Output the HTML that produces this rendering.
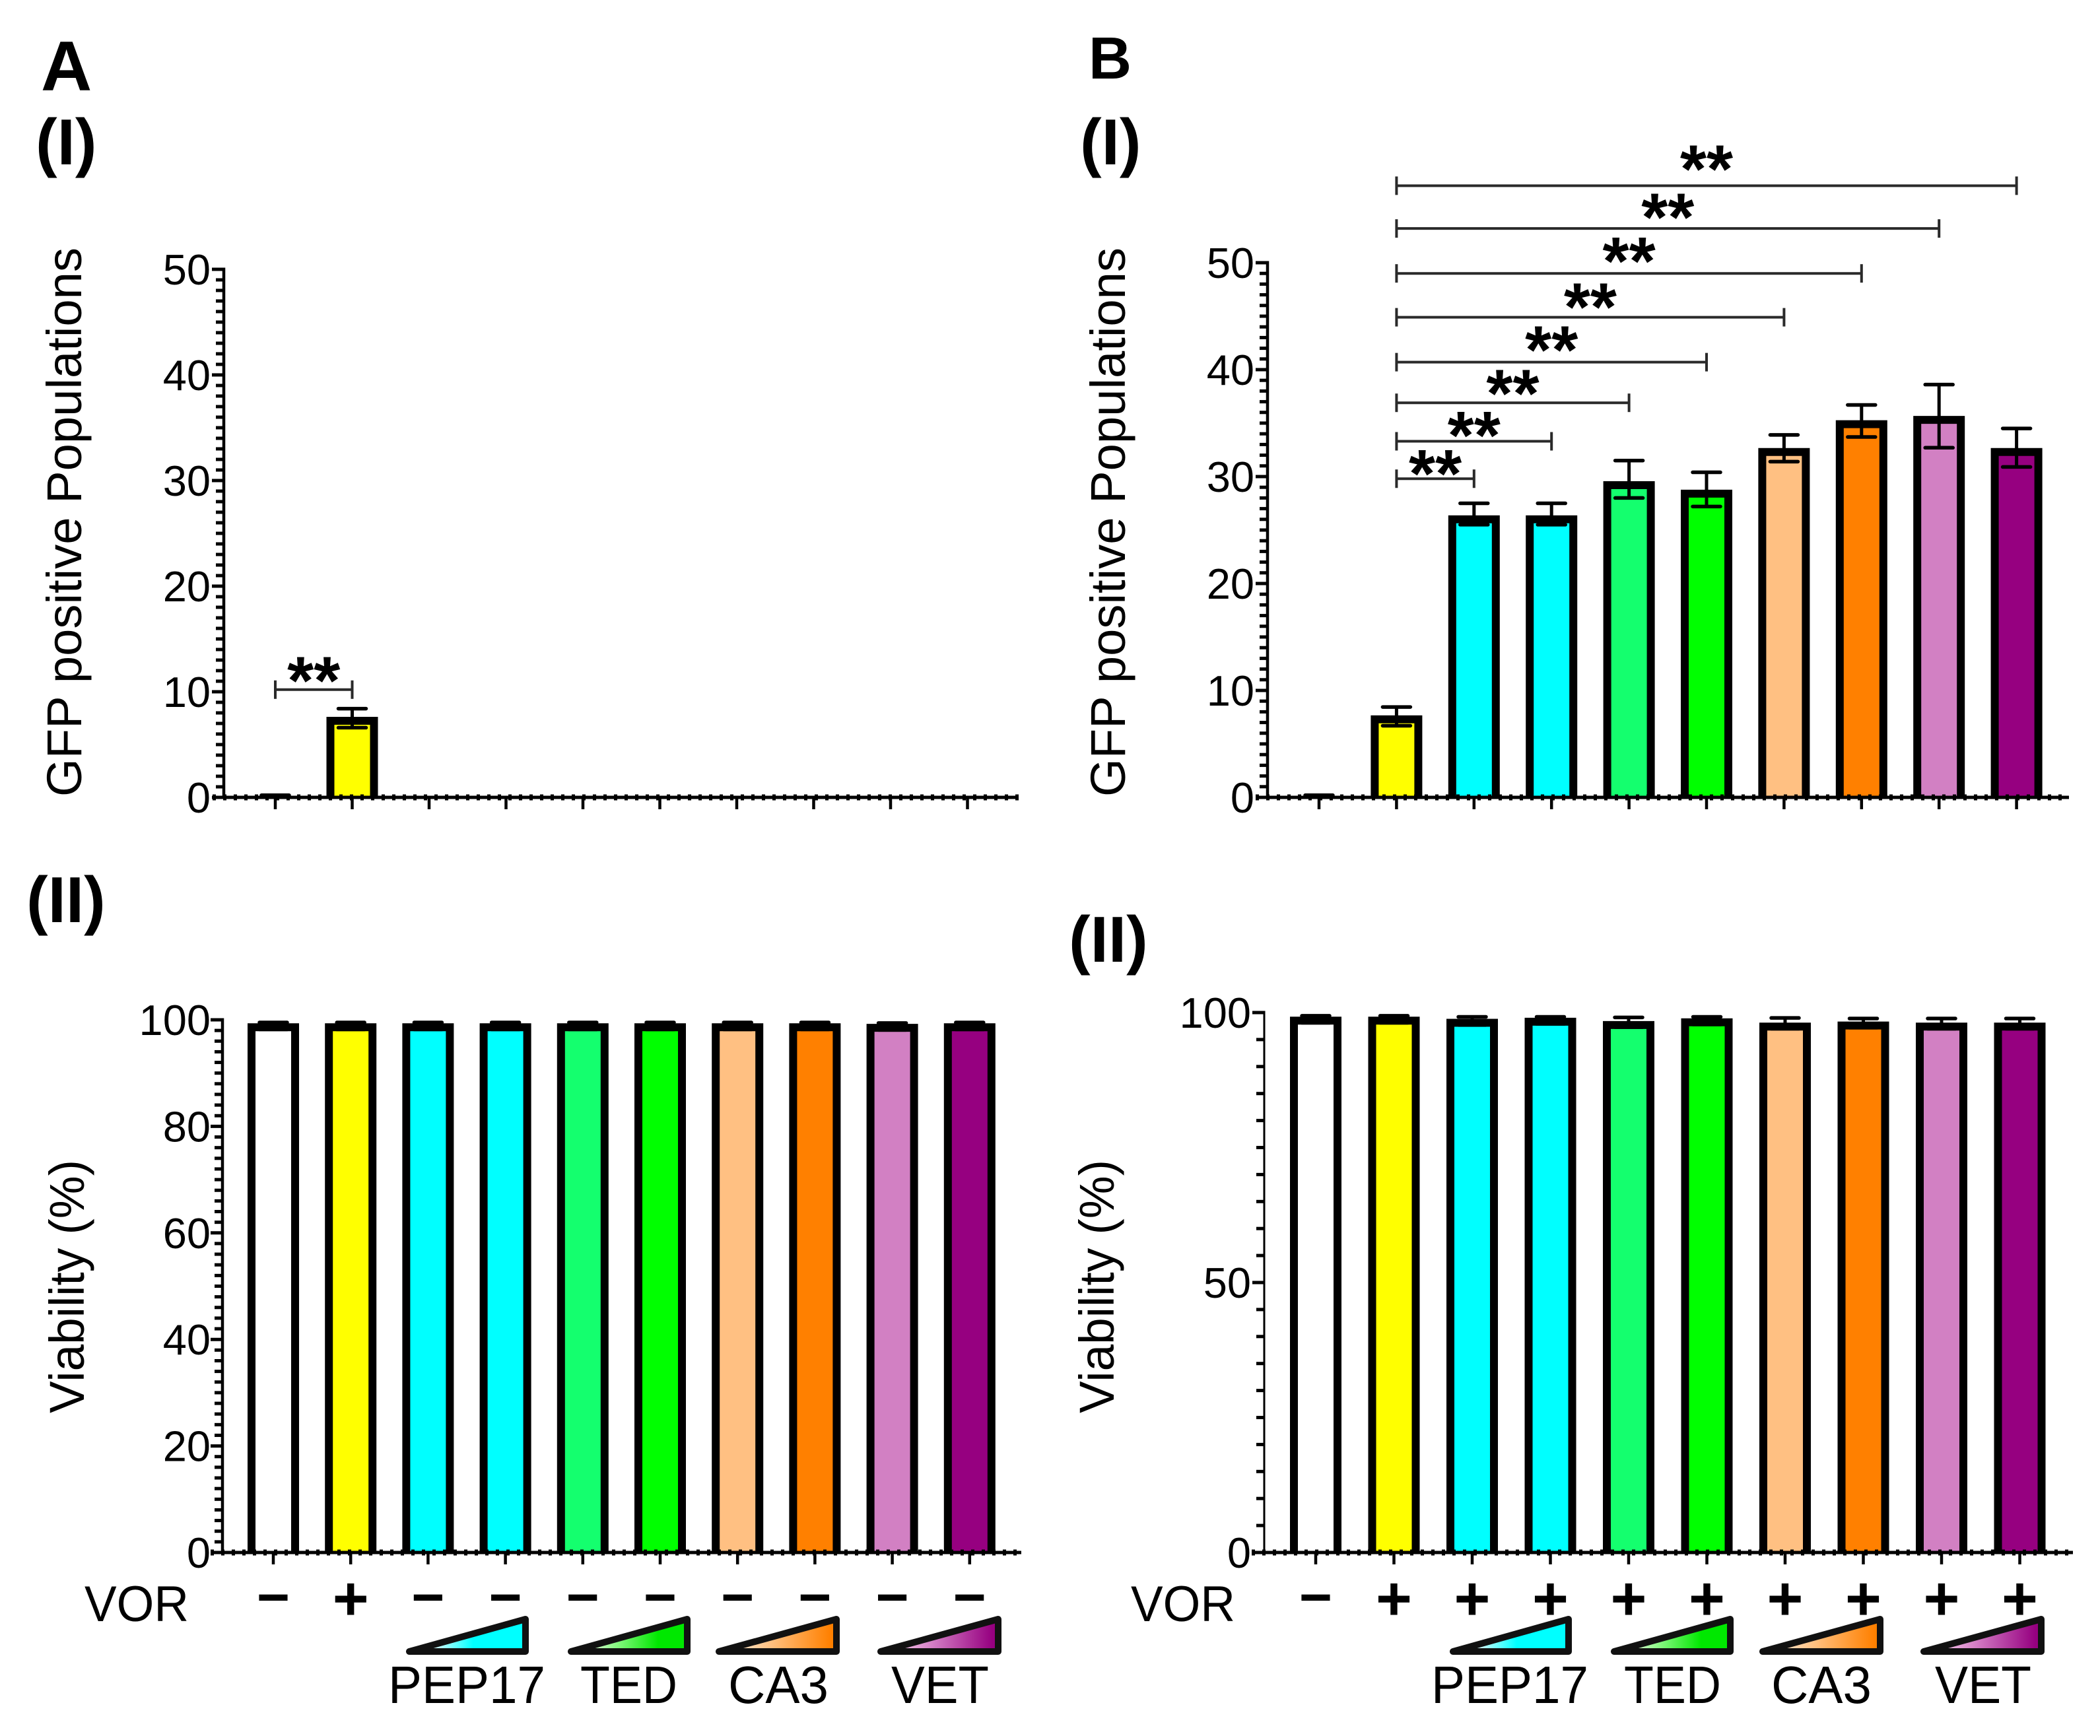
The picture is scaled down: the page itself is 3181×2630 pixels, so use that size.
<!DOCTYPE html>
<html lang="en">
<head>
<meta charset="utf-8">
<title>GFP positive populations and viability</title>
<style>
html,body{margin:0;padding:0;background:#fff}
svg{display:block}
text{font-family:"Liberation Sans",sans-serif;fill:#000}
.title{font-size:74px}
.vor{font-size:76px}
.panel{font-weight:700}
.lab{font-size:80px}
</style>
</head>
<body>
<svg id="figure" xmlns="http://www.w3.org/2000/svg" width="3181" height="2630" viewBox="0 0 3181 2630">
  <defs>
    <linearGradient id="grad-cyan"><stop offset="0.22" stop-color="#d8ffff"/><stop offset="0.55" stop-color="#00ffff"/></linearGradient>
    <linearGradient id="grad-green"><stop offset="0.22" stop-color="#c8ffc0"/><stop offset="0.75" stop-color="#00e800"/></linearGradient>
    <linearGradient id="grad-orange"><stop offset="0.22" stop-color="#ffdcb8"/><stop offset="0.95" stop-color="#ff8000"/></linearGradient>
    <linearGradient id="grad-purple"><stop offset="0.22" stop-color="#eeb4e2"/><stop offset="0.95" stop-color="#960080"/></linearGradient>
  </defs>
  <rect x="0" y="0" width="3181" height="2630" fill="#fff"/>

  <text class="panel" x="62" y="137" font-size="107">A</text>
  <text class="panel" x="1649" y="119" font-size="90">B</text>
  <text class="panel" x="54" y="249" font-size="98">(I)</text>
  <text class="panel" x="1636" y="249" font-size="98">(I)</text>
  <text class="panel" x="40" y="1397" font-size="98">(II)</text>
  <text class="panel" x="1619" y="1457" font-size="98">(II)</text>

  <text class="title" text-anchor="middle" textLength="832" lengthAdjust="spacingAndGlyphs" transform="translate(123 791) rotate(-90)">GFP positive Populations</text>
  <text class="title" text-anchor="middle" textLength="832" lengthAdjust="spacingAndGlyphs" transform="translate(1704 791) rotate(-90)">GFP positive Populations</text>
  <text class="title" text-anchor="middle" textLength="384" lengthAdjust="spacingAndGlyphs" transform="translate(127 1949) rotate(-90)">Viability (%)</text>
  <text class="title" text-anchor="middle" textLength="384" lengthAdjust="spacingAndGlyphs" transform="translate(1687 1949) rotate(-90)">Viability (%)</text>

  <text class="vor" x="128" y="2456" textLength="158" lengthAdjust="spacingAndGlyphs">VOR</text>
  <text class="vor" x="1713" y="2456" textLength="158" lengthAdjust="spacingAndGlyphs">VOR</text>

  <text class="lab" x="588" y="2580" textLength="238" lengthAdjust="spacingAndGlyphs">PEP17</text>
  <text class="lab" x="879" y="2580" textLength="147" lengthAdjust="spacingAndGlyphs">TED</text>
  <text class="lab" x="1103" y="2580" textLength="152" lengthAdjust="spacingAndGlyphs">CA3</text>
  <text class="lab" x="1350" y="2580" textLength="148" lengthAdjust="spacingAndGlyphs">VET</text>
  <text class="lab" x="2168" y="2580" textLength="238" lengthAdjust="spacingAndGlyphs">PEP17</text>
  <text class="lab" x="2460" y="2580" textLength="147" lengthAdjust="spacingAndGlyphs">TED</text>
  <text class="lab" x="2683" y="2580" textLength="152" lengthAdjust="spacingAndGlyphs">CA3</text>
  <text class="lab" x="2931" y="2580" textLength="146" lengthAdjust="spacingAndGlyphs">VET</text>

  <g fill="none" stroke="#111" stroke-width="10" stroke-linejoin="round">
    <polygon fill="url(#grad-cyan)" points="620,2502 796,2502 796,2453"/>
    <polygon fill="url(#grad-green)" points="865,2502 1041,2502 1041,2453"/>
    <polygon fill="url(#grad-orange)" points="1089,2502 1267,2502 1267,2453"/>
    <polygon fill="url(#grad-purple)" points="1334,2502 1512,2502 1512,2453"/>
    <polygon fill="url(#grad-cyan)" points="2201,2502 2376,2502 2376,2453"/>
    <polygon fill="url(#grad-green)" points="2445,2502 2621,2502 2621,2453"/>
    <polygon fill="url(#grad-orange)" points="2670,2502 2848,2502 2848,2453"/>
    <polygon fill="url(#grad-purple)" points="2914,2502 3092,2502 3092,2453"/>
  </g>
</svg>

<script>
// Categories
const categories = ['Control', 'VOR', 'PEP17 low', 'PEP17 high', 'TED low', 'TED high', 'CA3 low', 'CA3 high', 'VET low', 'VET high'];

// Panel A (I): GFP positive populations
const gfpAValues = [0, 7.25, 0, 0, 0, 0, 0, 0, 0, 0];
const gfpAErrUp = [0.2, 1.15, 0, 0, 0, 0, 0, 0, 0, 0];
const gfpAErrDown = [0, 0.65, 0, 0, 0, 0, 0, 0, 0, 0];
const gfpATicks = [0, 10, 20, 30, 40, 50];

// Panel B (I): GFP positive populations
const gfpBValues = [0, 7.3, 26.0, 26.0, 29.2, 28.4, 32.3, 34.9, 35.3, 32.3];
const gfpBErrUp = [0.2, 1.15, 1.5, 1.5, 2.3, 2.0, 1.6, 1.8, 3.3, 2.2];
const gfpBErrDown = [0, 0.6, 0.5, 0.5, 1.2, 1.2, 0.9, 1.2, 2.6, 1.4];
const gfpBTicks = [0, 10, 20, 30, 40, 50];

// Panel A (II): viability
const viaAValues = [98.6, 98.6, 98.6, 98.6, 98.6, 98.6, 98.6, 98.6, 98.5, 98.6];
const viaAErrUp = [0.9, 0.9, 0.9, 0.9, 0.9, 0.9, 0.9, 0.9, 0.9, 0.9];
const viaAErrDown = [0.4, 0.4, 0.4, 0.4, 0.4, 0.4, 0.4, 0.4, 0.4, 0.4];
const viaATicks = [0, 20, 40, 60, 80, 100];

// Panel B (II): viability
const viaBValues = [98.5, 98.5, 98.1, 98.3, 97.7, 98.2, 97.4, 97.6, 97.4, 97.4];
const viaBErrUp = [0.9, 0.9, 1.1, 0.9, 1.4, 1.0, 1.6, 1.3, 1.5, 1.5];
const viaBErrDown = [0.4, 0.4, 0.4, 0.4, 0.4, 0.4, 0.4, 0.4, 0.4, 0.4];
const viaBTicks = [0, 50, 100];

// VOR treatment rows
const vorA = ['\u2212', '+', '\u2212', '\u2212', '\u2212', '\u2212', '\u2212', '\u2212', '\u2212', '\u2212'];
const vorB = ['\u2212', '+', '+', '+', '+', '+', '+', '+', '+', '+'];

// Significance brackets: category indexes and heights in axis units
const bracketAFrom = [0];
const bracketATo = [1];
const bracketALevel = [10.2];
const bracketAStar = [11.9];
const bracketBFrom = [1, 1, 1, 1, 1, 1, 1, 1];
const bracketBTo = [9, 8, 7, 6, 5, 4, 3, 2];
const bracketBLevel = [57.2, 53.2, 49, 44.9, 40.7, 36.9, 33.3, 29.8];
const bracketBStar = [59.6, 55.1, 51, 46.7, 42.7, 38.6, 34.7, 31.1];

// Style only
const barFills = ['#ffffff', '#ffff00', '#00ffff', '#00ffff', '#14ff6e', '#00ff00', '#ffc082', '#ff8000', '#d280c3', '#960080'];

const svgNS = 'http://www.w3.org/2000/svg';
const root = document.getElementById('figure');

function mark(parent, tag, attrs, name, text) {
  const el = document.createElementNS(svgNS, tag);
  for (const k in attrs) el.setAttribute(k, attrs[k]);
  
  
  if (text !== undefined) el.textContent = text;
  parent.appendChild(el);
  return el;
}

function drawPanel(p) {
  const g = mark(root, 'g', {}, p.id + '-chart');
  const xPos = i => p.x0 + p.dx * i;
  const yPos = v => p.y0 - p.ppu * v;
  const yMax = p.ticks[p.ticks.length - 1];

  // bars
  p.values.forEach((v, i) => {
    if (v <= 0) return;
    const cx = xPos(i), top = yPos(v);
    mark(g, 'rect', {x: cx - 33, y: top, width: 66, height: p.y0 - top, fill: barFills[i]}, p.id + '-bar-fill-' + (i + 1));
    mark(g, 'path', {d: 'M' + (cx - 33) + ' ' + p.y0 + 'V' + top + 'H' + (cx + 33) + 'V' + p.y0, fill: 'none', stroke: '#000', 'stroke-width': 12, 'stroke-linejoin': 'miter'}, p.id + '-bar-' + (i + 1));
  });

  // error bars
  p.values.forEach((v, i) => {
    const up = p.errUp[i], down = p.errDown[i];
    if (up <= 0) return;
    const cx = xPos(i), yU = yPos(v + up), yD = yPos(v - down);
    mark(g, 'line', {x1: cx, x2: cx, y1: yU, y2: yD, stroke: '#000', 'stroke-width': 5}, p.id + '-error-stem-' + (i + 1));
    mark(g, 'line', {x1: cx - 21, x2: cx + 21, y1: yU, y2: yU, stroke: '#000', 'stroke-width': 5.5, 'stroke-linecap': 'round'}, p.id + '-error-cap-high-' + (i + 1));
    if (down > 0) mark(g, 'line', {x1: cx - 21, x2: cx + 21, y1: yD, y2: yD, stroke: '#000', 'stroke-width': 5.5, 'stroke-linecap': 'round'}, p.id + '-error-cap-low-' + (i + 1));
  });

  // y axis
  mark(g, 'line', {x1: p.axisX, x2: p.axisX, y1: yPos(yMax) - 2.5, y2: p.y0 + 2, stroke: '#000', 'stroke-width': p.axisW}, p.id + '-y-axis');
  for (let t = 0; t <= yMax + 1e-6; t += p.minor) {
    if (Math.abs(t / p.major - Math.round(t / p.major)) < 1e-6) continue;
    mark(g, 'line', {x1: p.axisX - 12, x2: p.axisX, y1: yPos(t), y2: yPos(t), stroke: '#000', 'stroke-width': 5}, p.id + '-y-minor-tick');
  }
  p.ticks.forEach(t => {
    mark(g, 'line', {x1: p.axisX - 18, x2: p.axisX, y1: yPos(t), y2: yPos(t), stroke: '#000', 'stroke-width': 5}, p.id + '-y-tick-' + t);
    mark(g, 'text', {x: p.labelX, y: yPos(t) + 23, 'text-anchor': 'end', 'font-size': 65}, p.id + '-y-tick-label-' + t, String(t));
  });

  // x axis with dotted baseline
  mark(g, 'line', {x1: p.xStart, x2: p.xEnd, y1: p.y0, y2: p.y0, stroke: '#000', 'stroke-width': 5}, p.id + '-x-axis');
  mark(g, 'line', {x1: p.xStart, x2: p.xEnd, y1: p.y0, y2: p.y0, stroke: '#000', 'stroke-width': 9, 'stroke-dasharray': '5 11'}, p.id + '-zero-dotted-line');
  categories.forEach((c, i) => {
    mark(g, 'line', {x1: xPos(i), x2: xPos(i), y1: p.y0, y2: p.y0 + 18, stroke: '#000', 'stroke-width': 4.5}, p.id + '-x-tick-' + (i + 1));
  });

  // brackets
  if (p.brFrom) {
    p.brFrom.forEach((f, i) => {
      const a = xPos(f), b = xPos(p.brTo[i]), y = yPos(p.brLevel[i]);
      const s = {stroke: '#2a2a2a', 'stroke-width': 4};
      mark(g, 'line', Object.assign({x1: a, x2: b, y1: y, y2: y}, s), p.id + '-bracket-' + (i + 1));
      mark(g, 'line', Object.assign({x1: a, x2: a, y1: y - 14, y2: y + 14}, s), p.id + '-bracket-left-end-' + (i + 1));
      mark(g, 'line', Object.assign({x1: b, x2: b, y1: y - 14, y2: y + 14}, s), p.id + '-bracket-right-end-' + (i + 1));
      mark(g, 'text', {x: (a + b) / 2, y: yPos(p.brStar[i]) + 49, 'text-anchor': 'middle', 'font-size': 103, 'font-weight': 700}, p.id + '-significance-stars-' + (i + 1), '**');
    });
  }

  // VOR signs
  if (p.signs) {
    p.signs.forEach((s, i) => {
      const plus = s === '+';
      mark(g, 'text', {x: xPos(i), y: plus ? 2454 : 2449, 'text-anchor': 'middle', 'font-size': plus ? 94 : 86, 'font-weight': 700}, p.id + '-vor-sign-' + (i + 1), s);
    });
  }
}

drawPanel({id: 'a1', x0: 417, dx: 116.5, y0: 1208, ppu: 16, axisX: 339, axisW: 4.5, xStart: 322, xEnd: 1543, major: 10, minor: 1, labelX: 319,
  ticks: gfpATicks, values: gfpAValues, errUp: gfpAErrUp, errDown: gfpAErrDown,
  brFrom: bracketAFrom, brTo: bracketATo, brLevel: bracketALevel, brStar: bracketAStar});

drawPanel({id: 'b1', x0: 1998, dx: 117.4, y0: 1208, ppu: 16.2, axisX: 1920, axisW: 4.5, xStart: 1902, xEnd: 3134, major: 10, minor: 1, labelX: 1900,
  ticks: gfpBTicks, values: gfpBValues, errUp: gfpBErrUp, errDown: gfpBErrDown,
  brFrom: bracketBFrom, brTo: bracketBTo, brLevel: bracketBLevel, brStar: bracketBStar});

drawPanel({id: 'a2', x0: 414, dx: 117.2, y0: 2352, ppu: 8.07, axisX: 337, axisW: 4.5, xStart: 319, xEnd: 1547, major: 20, minor: 2, labelX: 319,
  ticks: viaATicks, values: viaAValues, errUp: viaAErrUp, errDown: viaAErrDown, signs: vorA});

drawPanel({id: 'b2', x0: 1993, dx: 118.5, y0: 2352, ppu: 8.18, axisX: 1915, axisW: 3, xStart: 1896, xEnd: 3140, major: 50, minor: 5, labelX: 1895,
  ticks: viaBTicks, values: viaBValues, errUp: viaBErrUp, errDown: viaBErrDown, signs: vorB});
</script>
</body>
</html>
